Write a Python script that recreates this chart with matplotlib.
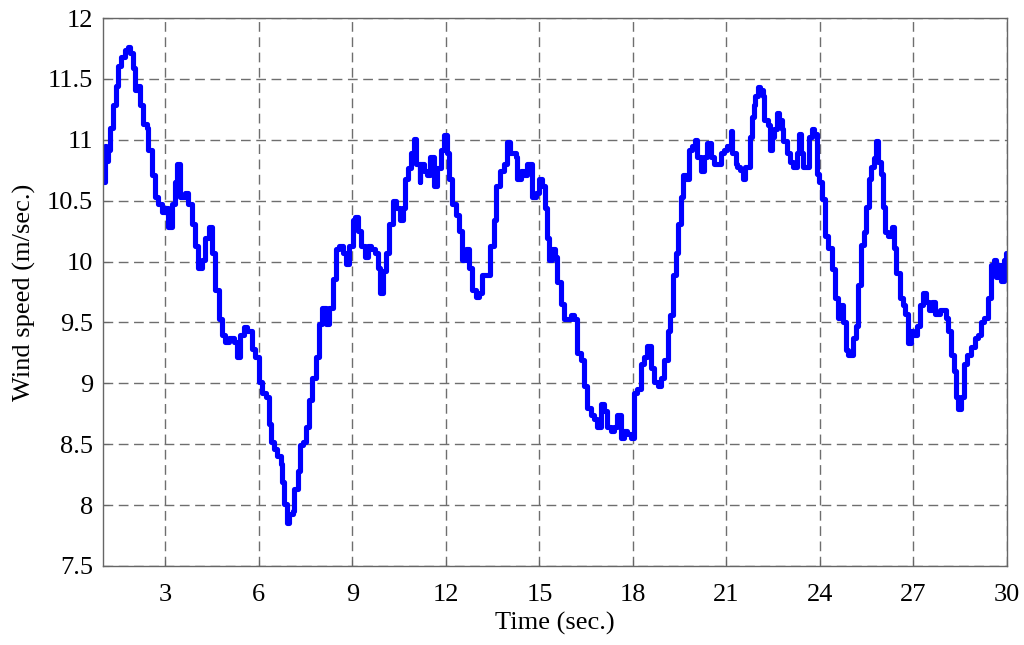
import numpy as np
import matplotlib
matplotlib.use("Agg")
import matplotlib.pyplot as plt

# wind speed trace (time in s, speed in m/s)
t_part1 = [1.00, 1.05, 1.11, 1.16, 1.24, 1.32, 1.41, 1.48, 1.59, 1.70, 1.81, 1.88, 1.97, 2.02, 2.13,
           2.18, 2.29, 2.40, 2.45, 2.56, 2.67, 2.77, 2.88, 2.99, 3.10, 3.20, 3.31, 3.37, 3.47, 3.63,
           3.74, 3.85, 3.96, 4.06, 4.17, 4.28, 4.39, 4.49, 4.60, 4.71, 4.82, 4.92, 5.03, 5.19, 5.30,
           5.41, 5.52, 5.62, 5.78, 5.89, 6.00, 6.11, 6.22, 6.32, 6.38, 6.48, 6.59, 6.70, 6.75, 6.81,
           6.89, 6.97, 7.08, 7.13, 7.24, 7.32, 7.40, 7.51, 7.61, 7.72, 7.83, 7.94, 8.04, 8.15, 8.26,
           8.37, 8.47, 8.58, 8.69, 8.80, 8.90, 9.01, 9.09, 9.17, 9.28, 9.39, 9.49, 9.60, 9.71, 9.82,
           9.89, 9.98, 10.09, 10.19, 10.30, 10.41, 10.52, 10.62, 10.68, 10.78, 10.89, 10.97, 11.05, 11.16]
v_part1 = [10.65, 10.95, 10.83, 10.92, 11.10, 11.29, 11.44, 11.61, 11.68, 11.74, 11.76, 11.71, 11.59, 11.41, 11.44,
           11.29, 11.13, 11.10, 10.92, 10.71, 10.53, 10.47, 10.41, 10.44, 10.28, 10.47, 10.65, 10.80, 10.53, 10.56,
           10.47, 10.31, 10.13, 9.95, 10.01, 10.19, 10.28, 10.07, 9.77, 9.53, 9.40, 9.34, 9.37, 9.34, 9.22,
           9.40, 9.46, 9.43, 9.28, 9.22, 9.01, 8.92, 8.89, 8.67, 8.52, 8.46, 8.40, 8.34, 8.19, 8.01,
           7.85, 7.93, 7.95, 8.13, 8.28, 8.49, 8.52, 8.64, 8.86, 9.04, 9.22, 9.49, 9.62, 9.49, 9.62,
           9.86, 10.10, 10.13, 10.07, 9.98, 10.13, 10.34, 10.37, 10.25, 10.13, 10.04, 10.13, 10.10, 10.07, 9.95,
           9.74, 9.92, 10.07, 10.31, 10.50, 10.44, 10.34, 10.44, 10.68, 10.77, 10.89, 11.01, 10.80, 10.65]

t_part2 = [11.18, 11.29, 11.40, 11.50, 11.61, 11.72, 11.83, 11.93, 12.04, 12.09, 12.20, 12.31, 12.41, 12.52,
           12.63, 12.74, 12.84, 12.95, 13.06, 13.16, 13.32, 13.43, 13.54, 13.62, 13.75, 13.86, 13.97, 14.07,
           14.24, 14.29, 14.40, 14.50, 14.61, 14.72, 14.77, 14.88, 14.98, 15.09, 15.17, 15.25, 15.31, 15.41,
           15.49, 15.57, 15.68, 15.79, 15.89, 16.00, 16.11, 16.22, 16.32, 16.43, 16.54, 16.64, 16.75, 16.86,
           16.97, 17.07, 17.18, 17.29, 17.39, 17.50, 17.61, 17.72, 17.82, 17.93, 18.04, 18.14, 18.25, 18.36,
           18.46, 18.57, 18.68, 18.79, 18.89, 19.00, 19.11, 19.19, 19.27, 19.37, 19.45, 19.53, 19.59, 19.70,
           19.80, 19.91, 19.98, 20.07, 20.18, 20.28, 20.37, 20.50, 20.61, 20.71, 20.82, 20.93, 21.03, 21.14,
           21.19, 21.30]
v_part2 = [10.80, 10.74, 10.71, 10.86, 10.62, 10.77, 10.92, 11.04, 10.89, 10.68, 10.47, 10.38, 10.25, 10.01,
           10.10, 9.95, 9.77, 9.71, 9.74, 9.89, 9.89, 10.13, 10.34, 10.62, 10.74, 10.80, 10.98, 10.89,
           10.86, 10.68, 10.74, 10.71, 10.80, 10.80, 10.53, 10.56, 10.68, 10.62, 10.44, 10.19, 10.01, 10.10,
           10.04, 9.83, 9.65, 9.53, 9.53, 9.56, 9.53, 9.25, 9.19, 8.98, 8.80, 8.74, 8.71, 8.64,
           8.83, 8.77, 8.64, 8.61, 8.64, 8.74, 8.55, 8.61, 8.58, 8.55, 8.92, 8.95, 9.16, 9.22,
           9.31, 9.13, 9.01, 8.98, 9.04, 9.19, 9.43, 9.56, 9.89, 10.07, 10.31, 10.53, 10.71, 10.68,
           10.92, 10.95, 11.00, 10.86, 10.74, 10.86, 10.97, 10.86, 10.80, 10.80, 10.89, 10.92, 10.95, 11.07,
           10.89, 10.80]

t_part3 = [21.34, 21.45, 21.52, 21.61, 21.69, 21.77, 21.82, 21.87, 21.93, 22.01, 22.09, 22.16, 22.22, 22.33,
           22.41, 22.46, 22.54, 22.62, 22.69, 22.78, 22.83, 22.94, 23.04, 23.15, 23.26, 23.33, 23.40, 23.47,
           23.58, 23.65, 23.74, 23.82, 23.90, 23.97, 24.06, 24.16, 24.27, 24.38, 24.48, 24.59, 24.66, 24.75,
           24.82, 24.91, 24.99, 25.07, 25.14, 25.23, 25.31, 25.42, 25.49, 25.57, 25.65, 25.74, 25.79, 25.87,
           25.95, 26.03, 26.10, 26.19, 26.31, 26.38, 26.45, 26.56, 26.67, 26.74, 26.83, 26.91, 26.99, 27.10,
           27.20, 27.30, 27.41, 27.49, 27.59, 27.70, 27.84, 27.98, 28.05, 28.12, 28.21, 28.30, 28.37, 28.44,
           28.53, 28.61, 28.72, 28.83, 28.96, 29.06, 29.17, 29.27, 29.38, 29.49, 29.57, 29.65, 29.72, 29.81,
           29.89, 29.97, 30.00]
v_part3 = [10.78, 10.75, 10.68, 10.78, 10.78, 11.02, 11.19, 11.29, 11.36, 11.43, 11.41, 11.36, 11.16, 11.12,
           10.92, 11.02, 11.09, 11.22, 11.16, 11.09, 10.99, 10.89, 10.82, 10.78, 10.89, 11.05, 10.89, 10.78,
           10.78, 11.02, 11.09, 11.05, 10.72, 10.65, 10.51, 10.21, 10.11, 9.94, 9.70, 9.54, 9.64, 9.50,
           9.27, 9.23, 9.23, 9.37, 9.47, 9.81, 10.14, 10.24, 10.45, 10.68, 10.78, 10.85, 10.99, 10.82,
           10.72, 10.45, 10.24, 10.21, 10.28, 10.11, 9.91, 9.70, 9.64, 9.57, 9.33, 9.43, 9.40, 9.47,
           9.64, 9.74, 9.67, 9.60, 9.67, 9.57, 9.60, 9.60, 9.54, 9.43, 9.23, 9.10, 8.89, 8.79,
           8.89, 9.16, 9.23, 9.30, 9.37, 9.40, 9.50, 9.54, 9.70, 9.97, 10.01, 9.87, 9.97, 9.84,
           10.01, 10.07, 10.07]

x_ticks = [3, 6, 9, 12, 15, 18, 21, 24, 27, 30]
y_ticks = [7.5, 8, 8.5, 9, 9.5, 10, 10.5, 11, 11.5, 12]
y_labels = ['7.5', '8', '8.5', '9', '9.5', '10', '10.5', '11', '11.5', '12']

t = np.array(t_part1 + t_part2 + t_part3)
v = np.array(v_part1 + v_part2 + v_part3)

plt.rcParams['font.family'] = ['Liberation Serif', 'DejaVu Serif']

fig = plt.figure(figsize=(10.24, 6.45), dpi=100)
ax = fig.add_axes([0.1006, 0.1225, 0.8828, 0.8495])

ax.plot(t, v, color='#0000ff', linewidth=3.7, drawstyle='steps-post',
        solid_joinstyle='round', solid_capstyle='round')

ax.set_xlim(1, 30)
ax.set_ylim(7.5, 12)
ax.set_xticks(x_ticks)
ax.set_yticks(y_ticks)
ax.set_yticklabels(y_labels)

ax.grid(True, color='#6e6e6e', linestyle=(0, (7, 4)), linewidth=1.0)
ax.tick_params(direction='in', length=4, labelsize=19, color='#666666')
ax.tick_params(axis='x', pad=13)
ax.tick_params(axis='y', pad=7)
for sp in ax.spines.values():
    sp.set_color('#666666')
    sp.set_linewidth(1.0)

ax.set_xlabel('Time (sec.)', fontsize=19, labelpad=4)
ax.set_ylabel('Wind speed (m/sec.)', fontsize=19, labelpad=8)

fig.savefig('out.png', dpi=100)
